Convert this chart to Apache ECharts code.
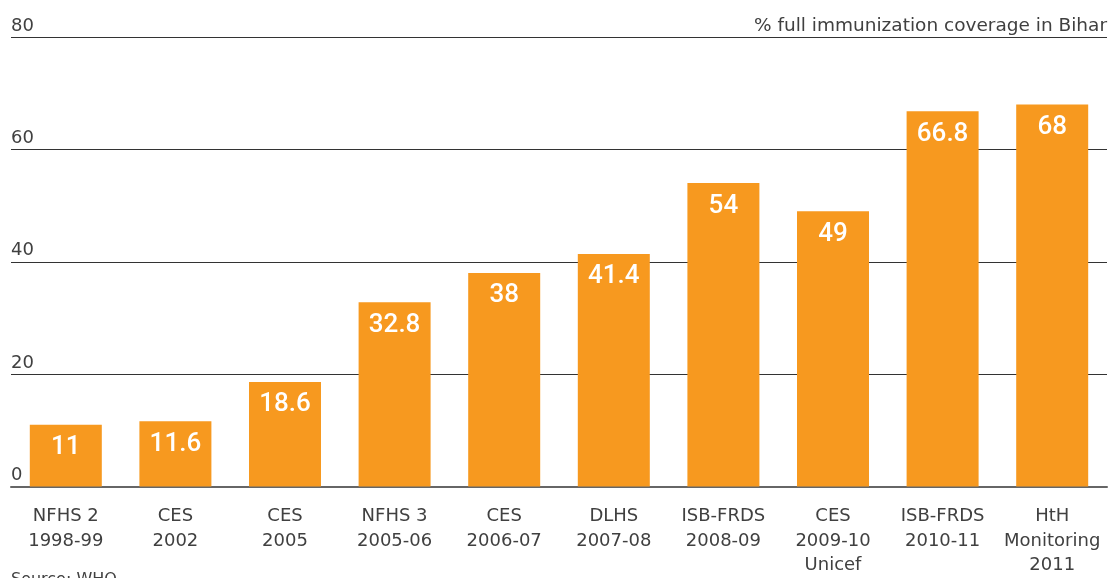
<html>
    <head>
        <meta charset="utf-8">
        <script src="https://cdn.jsdelivr.net/npm/echarts@6/dist/echarts.min.js"></script>
        <style>
            html, body { margin: 0; padding: 0; background: #fff; overflow: hidden; }
            #main { width: 1108px; height: 578px; }
        </style>
    </head>
    <body>
        <div id="main"></div>
        <script>

        var categories = [
            'NFHS 2\n1998-99',
            'CES\n2002',
            'CES\n2005',
            'NFHS 3\n2005-06',
            'CES\n2006-07',
            'DLHS\n2007-08',
            'ISB-FRDS\n2008-09',
            'CES\n2009-10\nUnicef',
            'ISB-FRDS\n2010-11',
            'HtH\nMonitoring\n2011'
        ];
        var coverage = [11, 11.6, 18.6, 32.8, 38, 41.4, 54, 49, 66.8, 68];

        var textFont = '"DejaVu Sans", sans-serif';
        var labelFont = 'Roboto, "Noto Sans", sans-serif';
        var textColor = '#404040';

        var myChart = echarts.init(document.getElementById('main'));

        var option = {
            animation: false,
            backgroundColor: '#fff',
            textStyle: { fontFamily: textFont },
            grid: {
                left: 11,
                right: 1,
                top: 37,
                bottom: 85,
                containLabel: false
            },
            graphic: [
                {
                    type: 'text',
                    x: 1107,
                    y: 17,
                    style: {
                        text: '% full immunization coverage in Bihar',
                        fill: textColor,
                        font: '18.5px ' + textFont,
                        align: 'right',
                        verticalAlign: 'top'
                    }
                },
                {
                    type: 'text',
                    x: 11,
                    y: 572,
                    style: {
                        text: 'Source: WHO',
                        fill: textColor,
                        font: '16px ' + textFont,
                        align: 'left',
                        verticalAlign: 'top'
                    }
                }
            ],
            xAxis: {
                type: 'category',
                data: categories,
                axisTick: { show: false },
                axisLine: {
                    lineStyle: { color: '#666', width: 2 }
                },
                axisLabel: {
                    color: textColor,
                    fontSize: 18,
                    lineHeight: 24.5,
                    margin: 18,
                    interval: 0,
                    fontFamily: textFont
                }
            },
            yAxis: {
                type: 'value',
                min: 0,
                max: 80,
                interval: 20,
                axisLine: { show: false },
                axisTick: { show: false },
                splitLine: {
                    lineStyle: { color: '#333', width: 1 }
                },
                axisLabel: {
                    inside: true,
                    margin: 0,
                    verticalAlign: 'bottom',
                    padding: [0, 0, 2, 0],
                    color: textColor,
                    fontSize: 18,
                    fontFamily: textFont
                }
            },
            series: [
                {
                    type: 'bar',
                    data: coverage,
                    barWidth: 72,
                    z: 3,
                    itemStyle: { color: '#f7991f' },
                    label: {
                        show: true,
                        position: 'insideTop',
                        distance: 10,
                        color: '#fff',
                        fontSize: 26,
                        fontWeight: 500,
                        fontFamily: labelFont
                    }
                }
            ]
        };

        myChart.setOption(option);

        </script>
    </body>
</html>
